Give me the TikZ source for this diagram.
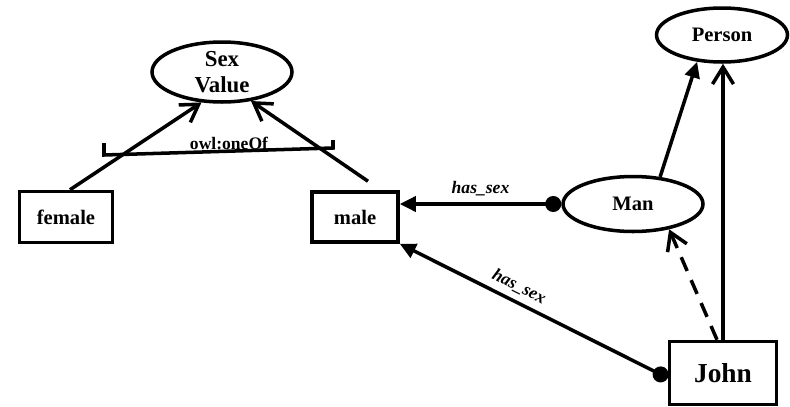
\documentclass[tikz,border=0pt]{standalone}
\usepackage{fontspec}
\setmainfont{Liberation Serif}
\usetikzlibrary{shapes.geometric, arrows.meta, calc}

\begin{document}
\begin{tikzpicture}[
  x=0.02cm, y=-0.02cm,
  font=\bfseries\fontsize{11.7}{14}\selectfont,
  line width=2pt,
  concept/.style={draw, ellipse, inner sep=0pt, align=center},
  instance/.style={draw, rectangle, inner sep=0pt},
  subclass/.style={-{Triangle[length=0.32cm, width=0.3cm]}},
  member/.style={-{Straight Barb[length=0.34cm, width=0.42cm]}},
  property/.style={{Circle[length=0.32cm]}-{Triangle[length=0.32cm, width=0.3cm]}},
  proplabel/.style={font=\bfseries\itshape\fontsize{10}{12}\selectfont},
]
\useasboundingbox (0,0) rectangle (790,406);

% classes
\node[concept, minimum width=2.8cm, minimum height=1.2cm,
  font=\bfseries\fontsize{13}{14.8}\selectfont] (sexvalue) at (222,72) {Sex\\Value};
\node[concept, minimum width=2.8cm, minimum height=1.1cm] (man) at (633,204) {Man};
\node[concept, minimum width=2.62cm, minimum height=1.08cm] (person) at (722,35) {Person};

% individuals
\node[instance, minimum width=1.86cm, minimum height=1.02cm] (female) at (66,217) {female};
\node[instance, minimum width=1.72cm, minimum height=1.0cm] (male) at (355,217) {male};
\node[instance, minimum width=2.14cm, minimum height=1.26cm,
  font=\bfseries\fontsize{15.6}{18}\selectfont] (john) at (723,373) {John};

% enumeration bracket
\draw (104,143) -- (104,155) -- (333,148) -- (333,140);
\node[font=\bfseries\fontsize{10}{12}\selectfont] (oneof) at (229,143) {owl:oneOf};

% members of the enumeration
\coordinate (maletop) at ($(male.north)+(13,-9)$);
\draw[member] ($(female.north)+(4,0)$) -- (sexvalue.-124);
\draw[member] (maletop) -- (sexvalue.-45);

% class hierarchy
\draw[subclass] (man.45) -- (person.-133);
\draw[member] (john.north) -- (john.north |- person.south);
\draw[member, dash pattern=on 0.3cm off 0.2cm] ($(john.north)+(-6,0)$) -- (man.-35);

% has_sex links
\draw[property] (man.west) -- node[proplabel, above] {has\_sex} (man.west -| male.east);
\draw[property] ($(john.west)+(0,5)$) -- node[proplabel, above, sloped, pos=0.58] {has\_sex} (male.south east);
\end{tikzpicture}
\end{document}
